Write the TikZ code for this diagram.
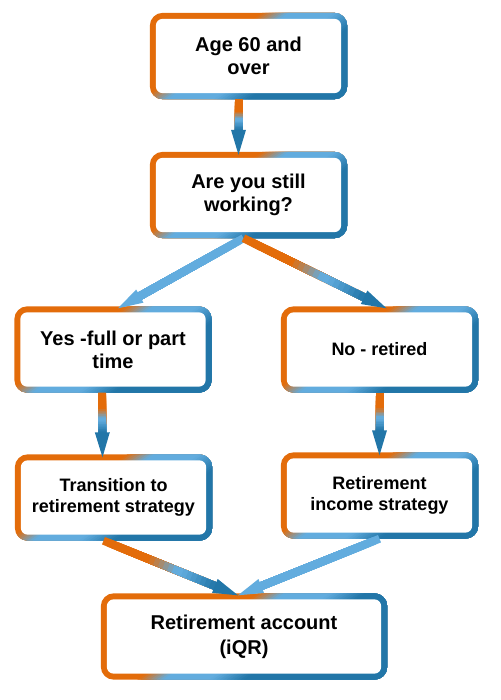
\documentclass[tikz,border=0pt]{standalone}
\usepackage{fontspec}
\setmainfont{Liberation Sans}
\usetikzlibrary{calc,backgrounds}
\definecolor{oc}{HTML}{E36C0A}
\definecolor{lbc}{HTML}{62ACDE}
\definecolor{dbc}{HTML}{2276A8}
\newcommand\gradarrow[5]{%
  \coordinate (ga-s) at (#1);
  \coordinate (ga-e) at (#2);
  \coordinate (ga-h) at ($(ga-e)!25pt!(ga-s)$);
  \foreach \i in {0,...,23} {
    \pgfmathsetmacro\ta{\i/24}
    \pgfmathsetmacro\tm{(\i+0.5)/24}
    \pgfmathtruncatemacro\pa{max(0,min(100,100*(\tm-0.4)/0.25))}
    \pgfmathtruncatemacro\pb{max(0,min(100,100*(\tm-0.7)/0.3))}
    \colorlet{gacol}{#4!\pa!#3}
    \colorlet{gacol}{#5!\pb!gacol}
    \draw[line width=8pt, gacol] ($(ga-s)!\ta!(ga-h)$) -- ($(ga-h)!-1pt!(ga-s)$);
  }
  \fill[#5] (ga-e) -- ($(ga-h)!7.5pt!90:(ga-e)$) -- ($(ga-h)!7.5pt!-90:(ga-e)$) -- cycle;
}
\newcommand\gborder[1]{%
  \begin{scope}
    \clip[rounded corners=13pt] (#1.south west) rectangle (#1.north east);
    \begin{scope}[shift={(#1.center)}, rotate=-54.4]
      \fill[oc] (-260,-260) rectangle (260,260);
      \foreach \k in {0,...,7} {
        \pgfmathsetmacro\sa{-27+\k*15/8}
        \pgfmathtruncatemacro\pc{(\k+0.5)*100/8}
        \fill[lbc!\pc!oc] (\sa,-260) rectangle (260,260);
      }
      \fill[lbc] (-12,-260) rectangle (260,260);
      \foreach \k in {0,...,9} {
        \pgfmathsetmacro\sa{15+\k*2}
        \pgfmathtruncatemacro\pc{(\k+0.5)*10}
        \fill[dbc!\pc!lbc] (\sa,-260) rectangle (260,260);
      }
      \fill[dbc] (35,-260) rectangle (260,260);
    \end{scope}
    \fill[white, rounded corners=7pt] ([shift={(6pt,6pt)}]#1.south west) rectangle ([shift={(-6pt,-6pt)}]#1.north east);
  \end{scope}
}
\begin{document}
\begin{tikzpicture}[x=1pt,y=-1pt,
  box/.style={align=center, inner sep=0pt,
    font=\bfseries\fontsize{20pt}{23pt}\selectfont,
    minimum width=197pt, minimum height=86pt},
  small/.style={font=\bfseries\fontsize{18pt}{21.5pt}\selectfont}]
\useasboundingbox (0,0) rectangle (500,700);
\node[box] (b1) at (248.5,56) {Age 60 and\\over};
\node[box] (b2) at (248.5,195) {Are you still\\working?};
\node[box] (yes) at (113,349.5) {Yes -full or part\\time};
\node[box,small] (no) at (379.5,349.5) {No - retired};
\node[box,small] (tr) at (113.5,497.5) {Transition to\\retirement strategy};
\node[box,small] (inc) at (379.5,495.5) {Retirement\\income strategy};
\node[box,minimum width=286pt, font=\bfseries\fontsize{20pt}{25pt}\selectfont] (acc) at (244,636.5) {Retirement account\\(iQR)};
\begin{pgfonlayer}{background}
  \gborder{b1}
  \gborder{b2}
  \gborder{yes}
  \gborder{no}
  \gborder{tr}
  \gborder{inc}
  \gborder{acc}
\end{pgfonlayer}
\gradarrow{[xshift=-10pt]b1.south}{[xshift=-10pt,yshift=-3pt]b2.north}{oc}{lbc}{dbc}
\gradarrow{[xshift=-5pt]b2.south}{[xshift=5pt,yshift=-2pt]yes.north}{lbc}{lbc}{lbc}
\gradarrow{[xshift=-5pt]b2.south}{[xshift=7pt,yshift=-2pt]no.north}{oc}{lbc}{dbc}
\gradarrow{[xshift=-11pt]yes.south}{[xshift=-11pt,yshift=-3pt]tr.north}{oc}{lbc}{dbc}
\gradarrow{no.south}{[yshift=-3pt]inc.north}{oc}{lbc}{dbc}
\gradarrow{[xshift=-10pt]tr.south}{[xshift=-6pt,yshift=-2pt]acc.north}{oc}{lbc}{dbc}
\gradarrow{inc.south}{[xshift=-6pt,yshift=-2pt]acc.north}{lbc}{lbc}{lbc}
\end{tikzpicture}
\end{document}
